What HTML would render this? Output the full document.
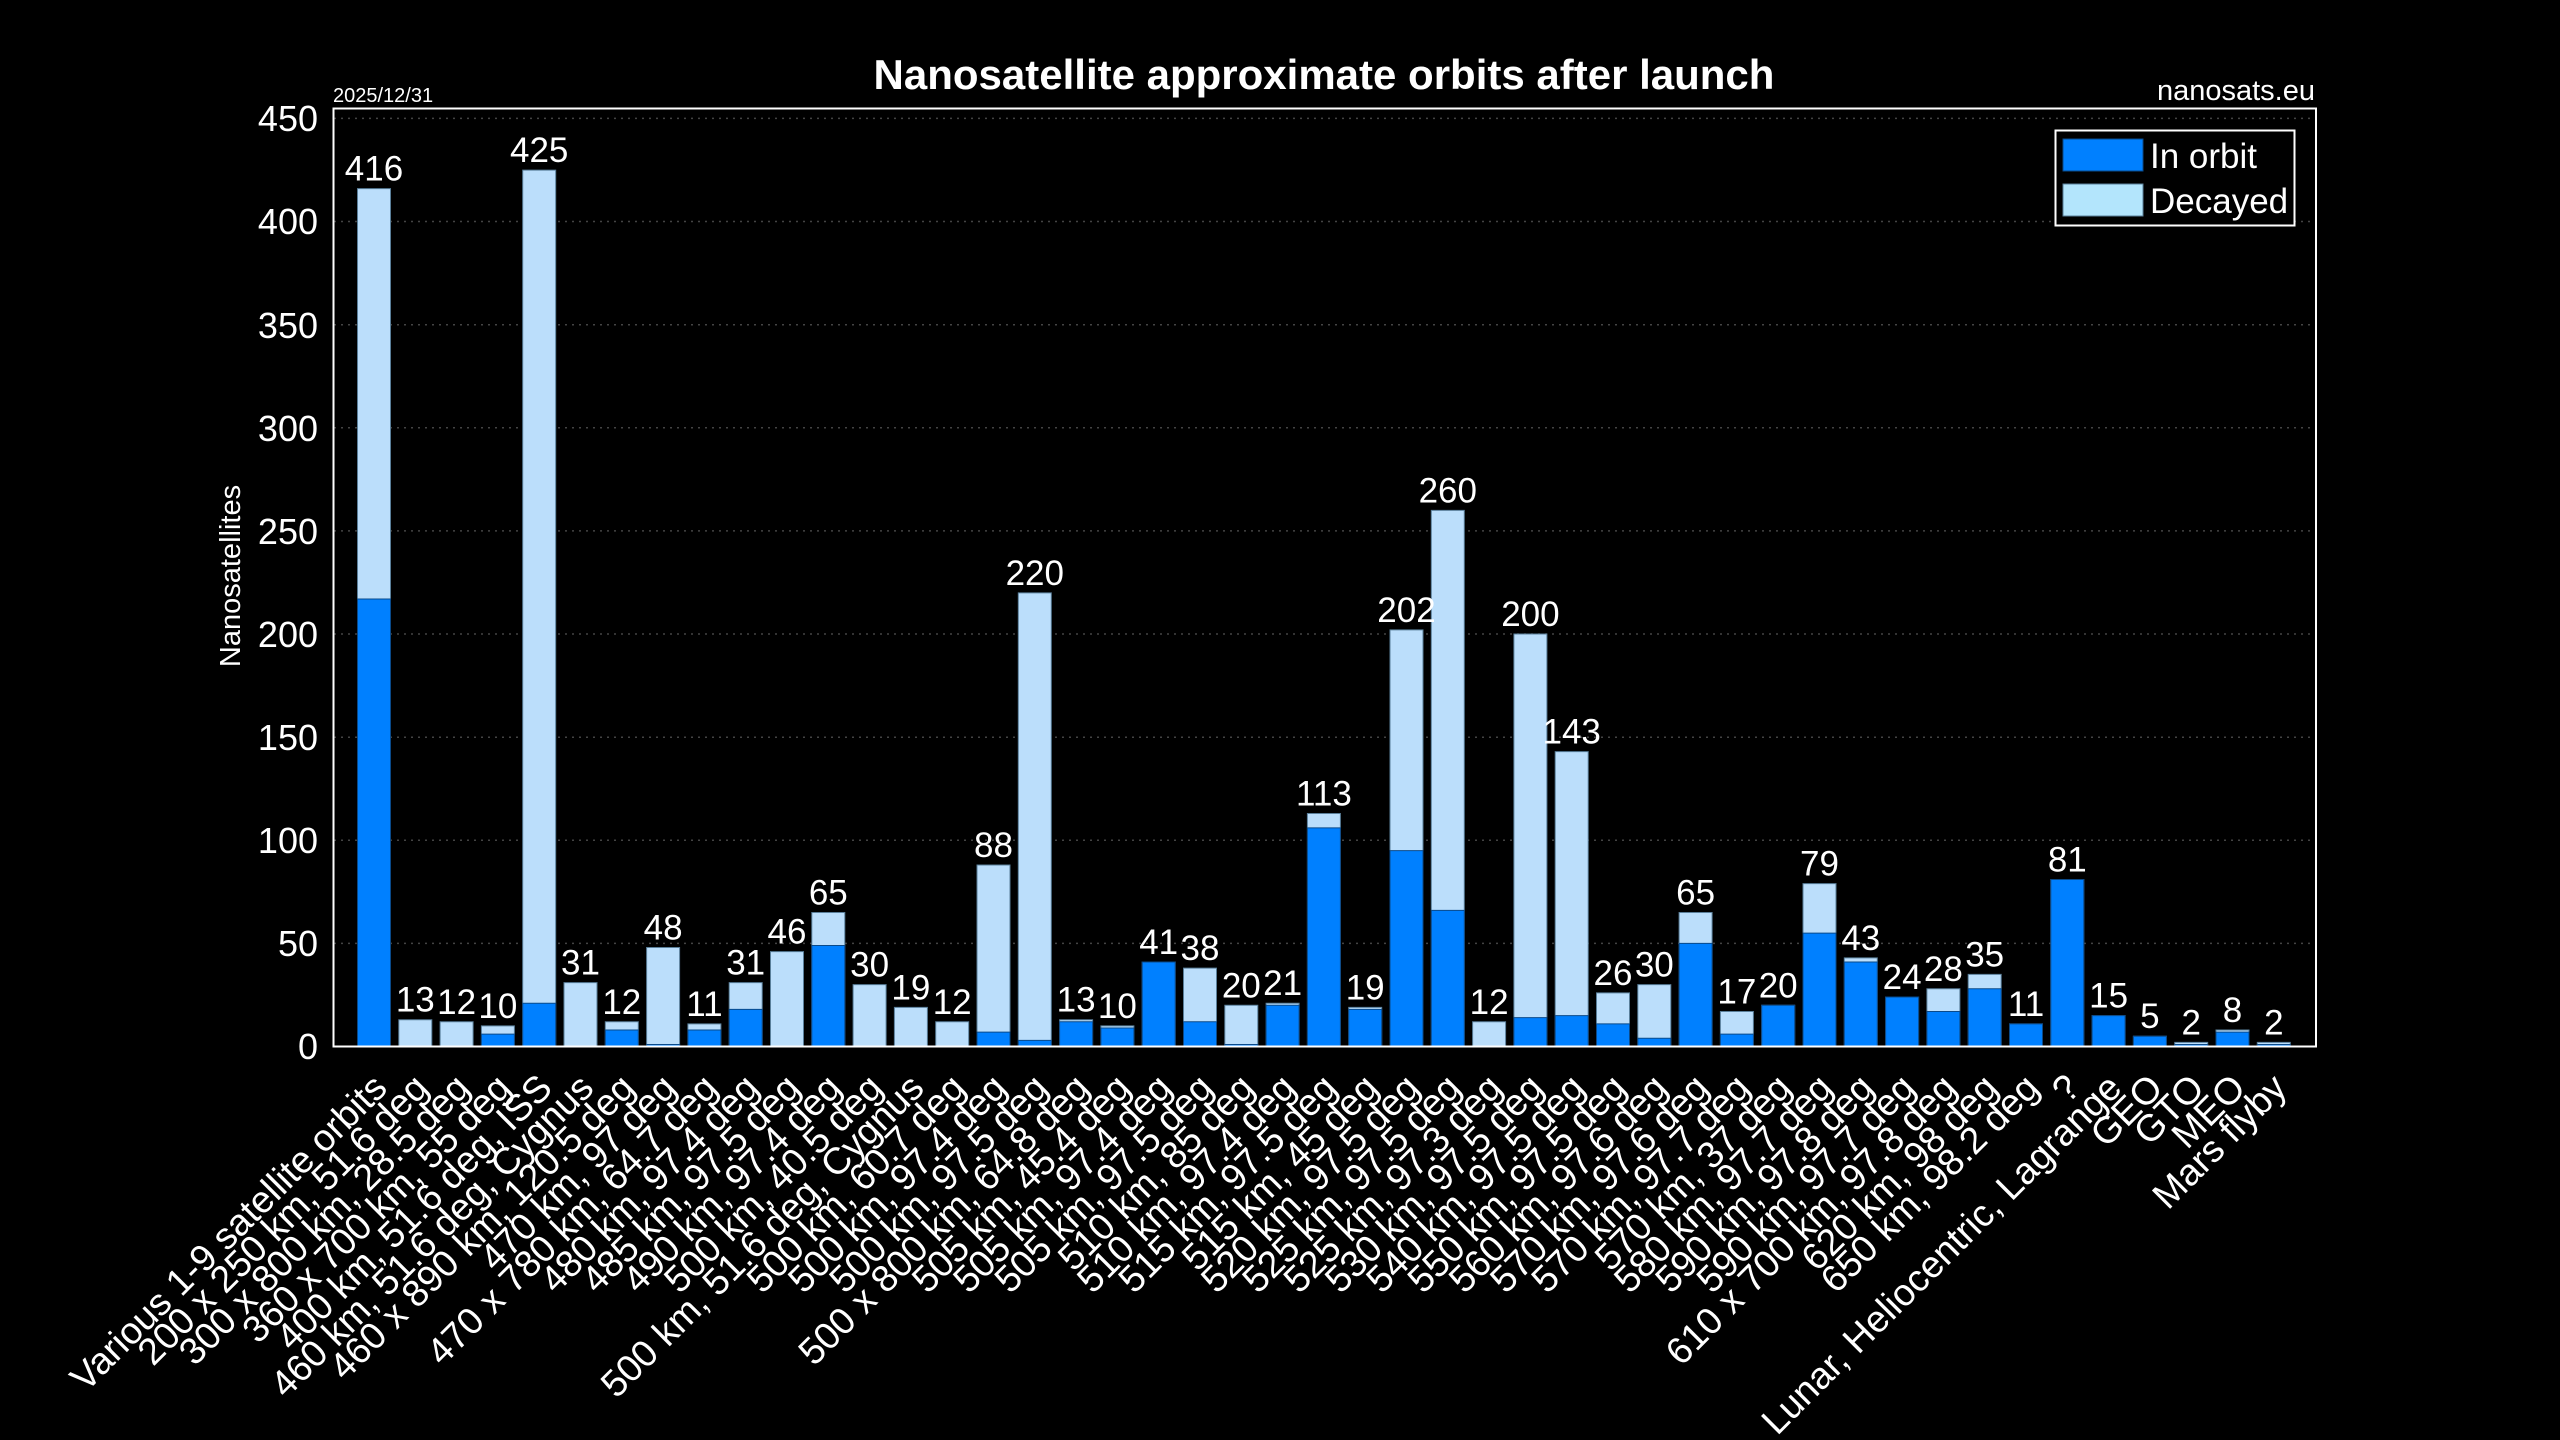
<!DOCTYPE html>
<html><head><meta charset="utf-8"><style>
html,body{margin:0;padding:0;background:#000;}
svg{display:block;}
text{font-family:"Liberation Sans",Arial,sans-serif;fill:#fff;}
</style></head><body>
<svg width="2560" height="1440" viewBox="0 0 2560 1440" xmlns="http://www.w3.org/2000/svg">
<rect width="2560" height="1440" fill="#000"/>
<text x="1324" y="89" font-size="42" font-weight="bold" text-anchor="middle">Nanosatellite approximate orbits after launch</text>
<text x="333" y="102" font-size="20">2025/12/31</text>
<text x="2315" y="100" font-size="29" text-anchor="end">nanosats.eu</text>
<g stroke="#444" stroke-width="1.5" stroke-dasharray="2,5">
<line x1="334" x2="2316" y1="943.4" y2="943.4"/><line x1="334" x2="2316" y1="840.3" y2="840.3"/><line x1="334" x2="2316" y1="737.2" y2="737.2"/><line x1="334" x2="2316" y1="634" y2="634"/><line x1="334" x2="2316" y1="530.9" y2="530.9"/><line x1="334" x2="2316" y1="427.8" y2="427.8"/><line x1="334" x2="2316" y1="324.7" y2="324.7"/><line x1="334" x2="2316" y1="221.5" y2="221.5"/><line x1="334" x2="2316" y1="118.4" y2="118.4"/>
</g>
<g font-size="36" text-anchor="end">
<text x="318" y="1059">0</text><text x="318" y="956">50</text><text x="318" y="853">100</text><text x="318" y="750">150</text><text x="318" y="647">200</text><text x="318" y="544">250</text><text x="318" y="441">300</text><text x="318" y="338">350</text><text x="318" y="234">400</text><text x="318" y="131">450</text>
</g>
<text transform="translate(240,576) rotate(-90)" font-size="29" text-anchor="middle">Nanosatellites</text>
<g transform="translate(0,1046.5) scale(1,-2.0622)">
<g fill="#bbdefb" stroke="#5a7f9a" stroke-width="1">
<rect x="357.5" y="0" width="33" height="416" vector-effect="non-scaling-stroke"/>
<rect x="398.8" y="0" width="33" height="13" vector-effect="non-scaling-stroke"/>
<rect x="440.1" y="0" width="33" height="12" vector-effect="non-scaling-stroke"/>
<rect x="481.4" y="0" width="33" height="10" vector-effect="non-scaling-stroke"/>
<rect x="522.7" y="0" width="33" height="425" vector-effect="non-scaling-stroke"/>
<rect x="564" y="0" width="33" height="31" vector-effect="non-scaling-stroke"/>
<rect x="605.3" y="0" width="33" height="12" vector-effect="non-scaling-stroke"/>
<rect x="646.6" y="0" width="33" height="48" vector-effect="non-scaling-stroke"/>
<rect x="687.9" y="0" width="33" height="11" vector-effect="non-scaling-stroke"/>
<rect x="729.2" y="0" width="33" height="31" vector-effect="non-scaling-stroke"/>
<rect x="770.5" y="0" width="33" height="46" vector-effect="non-scaling-stroke"/>
<rect x="811.8" y="0" width="33" height="65" vector-effect="non-scaling-stroke"/>
<rect x="853.1" y="0" width="33" height="30" vector-effect="non-scaling-stroke"/>
<rect x="894.4" y="0" width="33" height="19" vector-effect="non-scaling-stroke"/>
<rect x="935.7" y="0" width="33" height="12" vector-effect="non-scaling-stroke"/>
<rect x="977" y="0" width="33" height="88" vector-effect="non-scaling-stroke"/>
<rect x="1018.3" y="0" width="33" height="220" vector-effect="non-scaling-stroke"/>
<rect x="1059.6" y="0" width="33" height="13" vector-effect="non-scaling-stroke"/>
<rect x="1100.9" y="0" width="33" height="10" vector-effect="non-scaling-stroke"/>
<rect x="1142.2" y="0" width="33" height="41" vector-effect="non-scaling-stroke"/>
<rect x="1183.5" y="0" width="33" height="38" vector-effect="non-scaling-stroke"/>
<rect x="1224.8" y="0" width="33" height="20" vector-effect="non-scaling-stroke"/>
<rect x="1266.1" y="0" width="33" height="21" vector-effect="non-scaling-stroke"/>
<rect x="1307.4" y="0" width="33" height="113" vector-effect="non-scaling-stroke"/>
<rect x="1348.7" y="0" width="33" height="19" vector-effect="non-scaling-stroke"/>
<rect x="1390" y="0" width="33" height="202" vector-effect="non-scaling-stroke"/>
<rect x="1431.3" y="0" width="33" height="260" vector-effect="non-scaling-stroke"/>
<rect x="1472.6" y="0" width="33" height="12" vector-effect="non-scaling-stroke"/>
<rect x="1513.9" y="0" width="33" height="200" vector-effect="non-scaling-stroke"/>
<rect x="1555.2" y="0" width="33" height="143" vector-effect="non-scaling-stroke"/>
<rect x="1596.5" y="0" width="33" height="26" vector-effect="non-scaling-stroke"/>
<rect x="1637.8" y="0" width="33" height="30" vector-effect="non-scaling-stroke"/>
<rect x="1679.1" y="0" width="33" height="65" vector-effect="non-scaling-stroke"/>
<rect x="1720.4" y="0" width="33" height="17" vector-effect="non-scaling-stroke"/>
<rect x="1761.7" y="0" width="33" height="20" vector-effect="non-scaling-stroke"/>
<rect x="1803" y="0" width="33" height="79" vector-effect="non-scaling-stroke"/>
<rect x="1844.3" y="0" width="33" height="43" vector-effect="non-scaling-stroke"/>
<rect x="1885.6" y="0" width="33" height="24" vector-effect="non-scaling-stroke"/>
<rect x="1926.9" y="0" width="33" height="28" vector-effect="non-scaling-stroke"/>
<rect x="1968.2" y="0" width="33" height="35" vector-effect="non-scaling-stroke"/>
<rect x="2009.5" y="0" width="33" height="11" vector-effect="non-scaling-stroke"/>
<rect x="2050.8" y="0" width="33" height="81" vector-effect="non-scaling-stroke"/>
<rect x="2092.1" y="0" width="33" height="15" vector-effect="non-scaling-stroke"/>
<rect x="2133.4" y="0" width="33" height="5" vector-effect="non-scaling-stroke"/>
<rect x="2174.7" y="0" width="33" height="2" vector-effect="non-scaling-stroke"/>
<rect x="2216" y="0" width="33" height="8" vector-effect="non-scaling-stroke"/>
<rect x="2257.3" y="0" width="33" height="2" vector-effect="non-scaling-stroke"/>
</g>
<g fill="#0080ff" stroke="#0a4a8a" stroke-width="1">
<rect x="357.5" y="0" width="33" height="217" vector-effect="non-scaling-stroke"/>
<rect x="481.4" y="0" width="33" height="6" vector-effect="non-scaling-stroke"/>
<rect x="522.7" y="0" width="33" height="21" vector-effect="non-scaling-stroke"/>
<rect x="605.3" y="0" width="33" height="8" vector-effect="non-scaling-stroke"/>
<rect x="646.6" y="0" width="33" height="1" vector-effect="non-scaling-stroke"/>
<rect x="687.9" y="0" width="33" height="8" vector-effect="non-scaling-stroke"/>
<rect x="729.2" y="0" width="33" height="18" vector-effect="non-scaling-stroke"/>
<rect x="811.8" y="0" width="33" height="49" vector-effect="non-scaling-stroke"/>
<rect x="977" y="0" width="33" height="7" vector-effect="non-scaling-stroke"/>
<rect x="1018.3" y="0" width="33" height="3" vector-effect="non-scaling-stroke"/>
<rect x="1059.6" y="0" width="33" height="12" vector-effect="non-scaling-stroke"/>
<rect x="1100.9" y="0" width="33" height="9" vector-effect="non-scaling-stroke"/>
<rect x="1142.2" y="0" width="33" height="41" vector-effect="non-scaling-stroke"/>
<rect x="1183.5" y="0" width="33" height="12" vector-effect="non-scaling-stroke"/>
<rect x="1224.8" y="0" width="33" height="1" vector-effect="non-scaling-stroke"/>
<rect x="1266.1" y="0" width="33" height="20" vector-effect="non-scaling-stroke"/>
<rect x="1307.4" y="0" width="33" height="106" vector-effect="non-scaling-stroke"/>
<rect x="1348.7" y="0" width="33" height="18" vector-effect="non-scaling-stroke"/>
<rect x="1390" y="0" width="33" height="95" vector-effect="non-scaling-stroke"/>
<rect x="1431.3" y="0" width="33" height="66" vector-effect="non-scaling-stroke"/>
<rect x="1513.9" y="0" width="33" height="14" vector-effect="non-scaling-stroke"/>
<rect x="1555.2" y="0" width="33" height="15" vector-effect="non-scaling-stroke"/>
<rect x="1596.5" y="0" width="33" height="11" vector-effect="non-scaling-stroke"/>
<rect x="1637.8" y="0" width="33" height="4" vector-effect="non-scaling-stroke"/>
<rect x="1679.1" y="0" width="33" height="50" vector-effect="non-scaling-stroke"/>
<rect x="1720.4" y="0" width="33" height="6" vector-effect="non-scaling-stroke"/>
<rect x="1761.7" y="0" width="33" height="20" vector-effect="non-scaling-stroke"/>
<rect x="1803" y="0" width="33" height="55" vector-effect="non-scaling-stroke"/>
<rect x="1844.3" y="0" width="33" height="41" vector-effect="non-scaling-stroke"/>
<rect x="1885.6" y="0" width="33" height="24" vector-effect="non-scaling-stroke"/>
<rect x="1926.9" y="0" width="33" height="17" vector-effect="non-scaling-stroke"/>
<rect x="1968.2" y="0" width="33" height="28" vector-effect="non-scaling-stroke"/>
<rect x="2009.5" y="0" width="33" height="11" vector-effect="non-scaling-stroke"/>
<rect x="2050.8" y="0" width="33" height="81" vector-effect="non-scaling-stroke"/>
<rect x="2092.1" y="0" width="33" height="15" vector-effect="non-scaling-stroke"/>
<rect x="2133.4" y="0" width="33" height="5" vector-effect="non-scaling-stroke"/>
<rect x="2174.7" y="0" width="33" height="1" vector-effect="non-scaling-stroke"/>
<rect x="2216" y="0" width="33" height="7" vector-effect="non-scaling-stroke"/>
<rect x="2257.3" y="0" width="33" height="1" vector-effect="non-scaling-stroke"/>
</g>
</g>
<rect x="333.5" y="108.5" width="1982.5" height="938" fill="none" stroke="#fff" stroke-width="2"/>
<g font-size="35" text-anchor="middle">
<text x="374" y="180.6">416</text><text x="415.3" y="1011.7">13</text><text x="456.6" y="1013.8">12</text><text x="497.9" y="1017.9">10</text><text x="539.2" y="162.1">425</text><text x="580.5" y="974.6">31</text><text x="621.8" y="1013.8">12</text><text x="663.1" y="939.5">48</text><text x="704.4" y="1015.8">11</text><text x="745.7" y="974.6">31</text><text x="787" y="943.6">46</text><text x="828.3" y="904.5">65</text><text x="869.6" y="976.6">30</text><text x="910.9" y="999.3">19</text><text x="952.2" y="1013.8">12</text><text x="993.5" y="857">88</text><text x="1034.8" y="584.8">220</text><text x="1076.1" y="1011.7">13</text><text x="1117.4" y="1017.9">10</text><text x="1158.7" y="953.9">41</text><text x="1200" y="960.1">38</text><text x="1241.3" y="997.3">20</text><text x="1282.6" y="995.2">21</text><text x="1323.9" y="805.5">113</text><text x="1365.2" y="999.3">19</text><text x="1406.5" y="621.9">202</text><text x="1447.8" y="502.3">260</text><text x="1489.1" y="1013.8">12</text><text x="1530.4" y="626.1">200</text><text x="1571.7" y="743.6">143</text><text x="1613" y="984.9">26</text><text x="1654.3" y="976.6">30</text><text x="1695.6" y="904.5">65</text><text x="1736.9" y="1003.4">17</text><text x="1778.2" y="997.3">20</text><text x="1819.5" y="875.6">79</text><text x="1860.8" y="949.8">43</text><text x="1902.1" y="989">24</text><text x="1943.4" y="980.8">28</text><text x="1984.7" y="966.3">35</text><text x="2026" y="1015.8">11</text><text x="2067.3" y="871.5">81</text><text x="2108.6" y="1007.6">15</text><text x="2149.9" y="1028.2">5</text><text x="2191.2" y="1034.4">2</text><text x="2232.5" y="1022">8</text><text x="2273.8" y="1034.4">2</text>
</g>
<g font-size="37.5" text-anchor="end">
<text transform="translate(389,1090) rotate(-45)">Various 1-9 satellite orbits</text>
<text transform="translate(430.3,1090) rotate(-45)">200 x 250 km, 51.6 deg</text>
<text transform="translate(471.6,1090) rotate(-45)">300 x 800 km, 28.5 deg</text>
<text transform="translate(512.9,1090) rotate(-45)">360 x 700 km, 55 deg</text>
<text transform="translate(554.2,1090) rotate(-45)">400 km, 51.6 deg, ISS</text>
<text transform="translate(595.5,1090) rotate(-45)">460 km, 51.6 deg, Cygnus</text>
<text transform="translate(636.8,1090) rotate(-45)">460 x 890 km, 120.5 deg</text>
<text transform="translate(678.1,1090) rotate(-45)">470 km, 97 deg</text>
<text transform="translate(719.4,1090) rotate(-45)">470 x 780 km, 64.7 deg</text>
<text transform="translate(760.7,1090) rotate(-45)">480 km, 97.4 deg</text>
<text transform="translate(802,1090) rotate(-45)">485 km, 97.5 deg</text>
<text transform="translate(843.3,1090) rotate(-45)">490 km, 97.4 deg</text>
<text transform="translate(884.6,1090) rotate(-45)">500 km, 40.5 deg</text>
<text transform="translate(925.9,1090) rotate(-45)">500 km, 51.6 deg, Cygnus</text>
<text transform="translate(967.2,1090) rotate(-45)">500 km, 60.7 deg</text>
<text transform="translate(1008.5,1090) rotate(-45)">500 km, 97.4 deg</text>
<text transform="translate(1049.8,1090) rotate(-45)">500 km, 97.5 deg</text>
<text transform="translate(1091.1,1090) rotate(-45)">500 x 800 km, 64.8 deg</text>
<text transform="translate(1132.4,1090) rotate(-45)">505 km, 45.4 deg</text>
<text transform="translate(1173.7,1090) rotate(-45)">505 km, 97.4 deg</text>
<text transform="translate(1215,1090) rotate(-45)">505 km, 97.5 deg</text>
<text transform="translate(1256.3,1090) rotate(-45)">510 km, 85 deg</text>
<text transform="translate(1297.6,1090) rotate(-45)">510 km, 97.4 deg</text>
<text transform="translate(1338.9,1090) rotate(-45)">515 km, 97.5 deg</text>
<text transform="translate(1380.2,1090) rotate(-45)">515 km, 45 deg</text>
<text transform="translate(1421.5,1090) rotate(-45)">520 km, 97.5 deg</text>
<text transform="translate(1462.8,1090) rotate(-45)">525 km, 97.5 deg</text>
<text transform="translate(1504.1,1090) rotate(-45)">525 km, 97.3 deg</text>
<text transform="translate(1545.4,1090) rotate(-45)">530 km, 97.5 deg</text>
<text transform="translate(1586.7,1090) rotate(-45)">540 km, 97.5 deg</text>
<text transform="translate(1628,1090) rotate(-45)">550 km, 97.5 deg</text>
<text transform="translate(1669.3,1090) rotate(-45)">560 km, 97.6 deg</text>
<text transform="translate(1710.6,1090) rotate(-45)">570 km, 97.6 deg</text>
<text transform="translate(1751.9,1090) rotate(-45)">570 km, 97.7 deg</text>
<text transform="translate(1793.2,1090) rotate(-45)">570 km, 37 deg</text>
<text transform="translate(1834.5,1090) rotate(-45)">580 km, 97.7 deg</text>
<text transform="translate(1875.8,1090) rotate(-45)">590 km, 97.8 deg</text>
<text transform="translate(1917.1,1090) rotate(-45)">590 km, 97.7 deg</text>
<text transform="translate(1958.4,1090) rotate(-45)">610 x 700 km, 97.8 deg</text>
<text transform="translate(1999.7,1090) rotate(-45)">620 km, 98 deg</text>
<text transform="translate(2041,1090) rotate(-45)">650 km, 98.2 deg</text>
<text transform="translate(2082.3,1090) rotate(-45)">?</text>
<text transform="translate(2123.6,1090) rotate(-45)">Lunar, Heliocentric, Lagrange</text>
<text transform="translate(2164.9,1090) rotate(-45)">GEO</text>
<text transform="translate(2206.2,1090) rotate(-45)">GTO</text>
<text transform="translate(2247.5,1090) rotate(-45)">MEO</text>
<text transform="translate(2288.8,1090) rotate(-45)">Mars flyby</text>
</g>
<rect x="2055.5" y="130.5" width="239" height="95" fill="#000" stroke="#fff" stroke-width="2"/>
<rect x="2063" y="139" width="80" height="32" fill="#0080ff" stroke="#0a4a8a" stroke-width="1"/>
<rect x="2063" y="184" width="80" height="32" fill="#b3e5fc" stroke="#5a7f9a" stroke-width="1"/>
<text x="2150" y="168" font-size="35">In orbit</text>
<text x="2150" y="213" font-size="35">Decayed</text>
</svg>
</body></html>
